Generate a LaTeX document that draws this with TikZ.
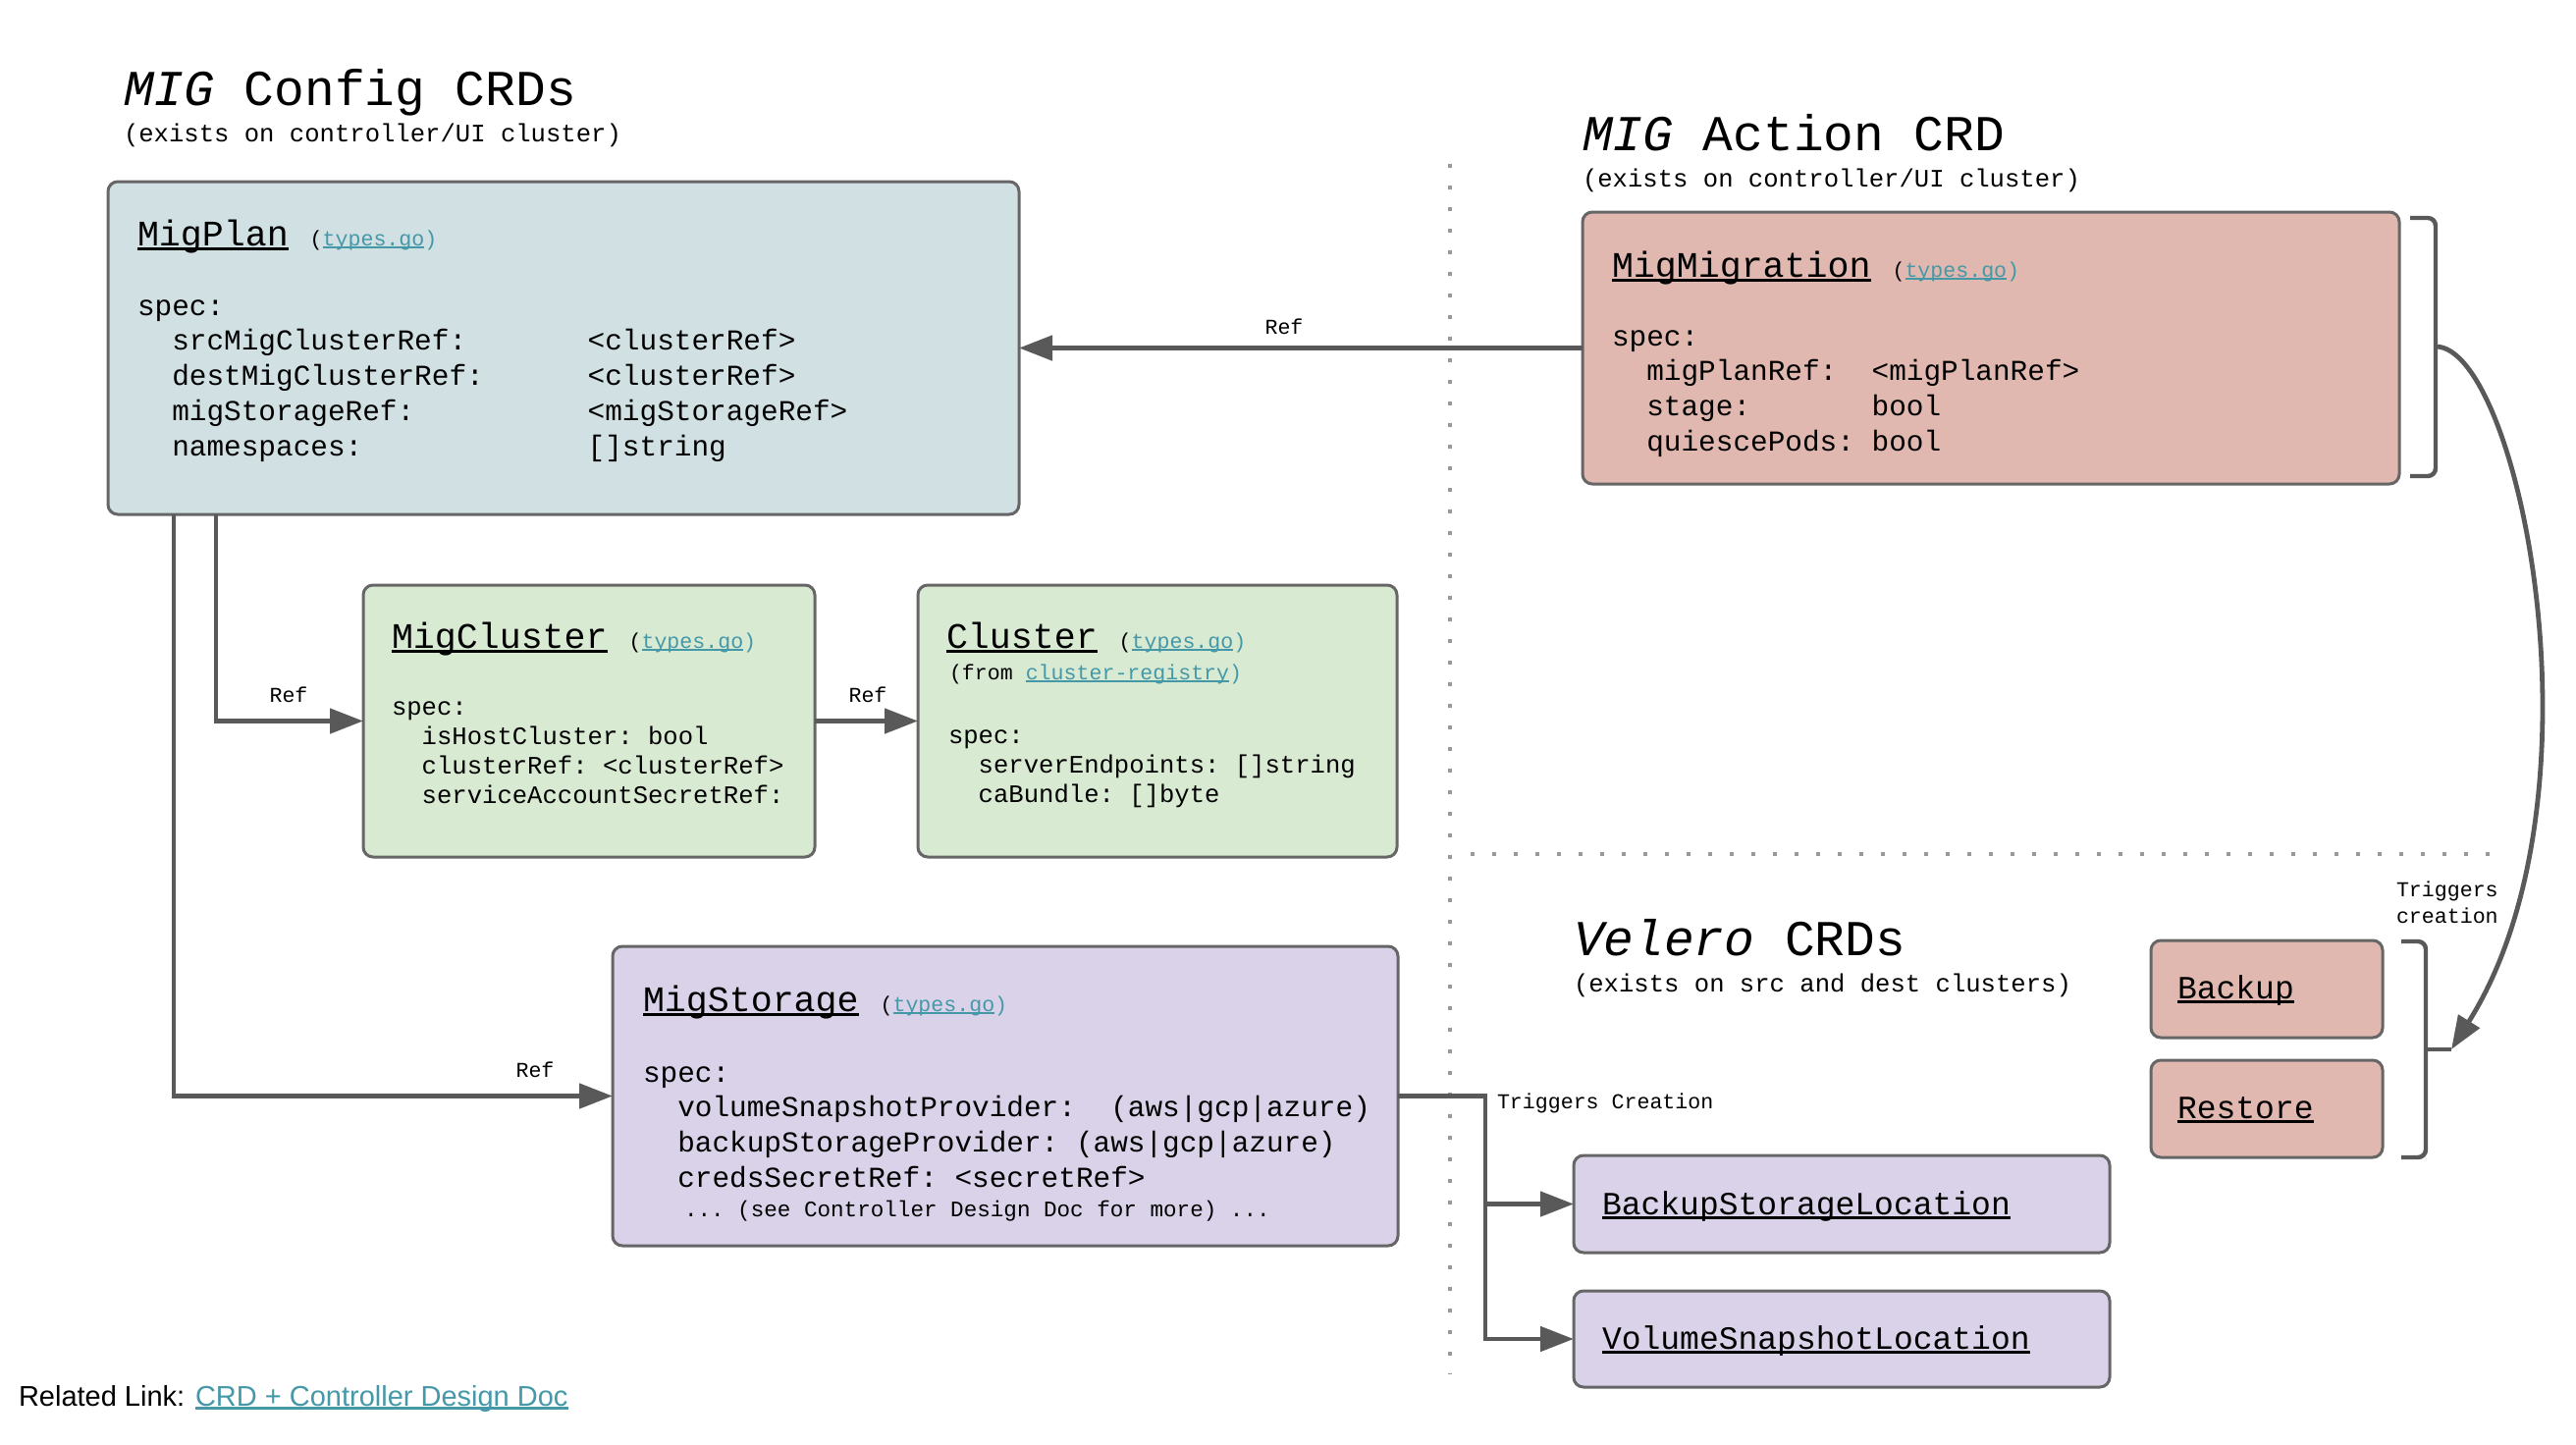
\documentclass[tikz,border=0pt]{standalone}
\usepackage{fontspec}
\setmainfont{Liberation Mono}[WordSpace={1,0,0}]
\newfontfamily\arial{Liberation Sans}
\usetikzlibrary{arrows.meta}
\definecolor{linkc}{RGB}{69,152,168}
\definecolor{cyanbox}{HTML}{D0E0E3}
\definecolor{redbox}{RGB}{224,184,175}
\definecolor{greenbox}{HTML}{D9EAD3}
\definecolor{purplebox}{HTML}{D9D2E9}
\definecolor{lineg}{RGB}{89,89,89}
\definecolor{boxline}{RGB}{102,102,102}
\definecolor{dotg}{RGB}{153,153,153}
\newcommand\ulx[2][black]{\setbox0\hbox{#2}\rlap{\color{#1}\rule[-0.14em]{\wd0}{0.09em}}\box0\relax}
\newcommand\fs[2]{\fontsize{#1}{#2}\selectfont}
\newcommand\tgo{{\fs{10.8}{13}(\ulx[linkc]{\color{linkc}types.go})}}
\newcommand\rows[1]{\begin{tabular}[t]{@{}l@{}}#1\end{tabular}}
\begin{document}
\begin{tikzpicture}[x=0.5pt,y=-0.5pt,
  box/.style={draw=boxline, line width=1.5pt, rounded corners=5pt, inner sep=0, outer sep=0, anchor=north west},
  txt/.style={inner sep=0, outer sep=0, anchor=base west, text=black},
  conn/.style={draw=lineg, line width=2.4pt, -{Triangle[length=17pt,width=12.5pt]}},
  brk/.style={draw=lineg, line width=2.2pt, rounded corners=4pt},
  dotline/.style={draw=dotg, line width=2pt, dash pattern=on 2pt off 9pt},
  hdr/.style={txt, font=\fs{18.3}{22}},
  body/.style={txt, font=\fs{14.7}{17.9}},
  sbody/.style={txt, font=\fs{12.8}{15.1}},
  small/.style={txt, font=\fs{10.8}{13.5}},
  ttl/.style={txt, font=\fs{25.6}{30}},
  sub/.style={txt, font=\fs{12.8}{15}},
  vel/.style={txt, font=\fs{16.5}{20}}
]
\useasboundingbox (0,0) rectangle (2624,1472);

% dotted separators
\draw[dotline] (1477,167) -- (1477,1400);
\draw[dotline] (1498,870) -- (2536,870);

% titles
\node[ttl] (t1) at (126,107) {\textit{MIG} Config CRDs};
\node[sub] (s1) at (126,144) {(exists on controller/UI cluster)};
\node[ttl] (t2) at (1612,153) {\textit{MIG} Action CRD};
\node[sub] (s2) at (1612,190) {(exists on controller/UI cluster)};
\node[ttl] (t3) at (1603,973) {\textit{Velero} CRDs};
\node[sub] (s3) at (1603,1010) {(exists on src and dest clusters)};

% boxes
\node[box, fill=cyanbox, minimum width=464pt, minimum height=169.5pt] (migplan) at (110,185) {};
\node[box, fill=redbox, minimum width=416pt, minimum height=138.5pt] (migmig) at (1612,216) {};
\node[box, fill=greenbox, minimum width=230pt, minimum height=138.5pt] (migcluster) at (370,596) {};
\node[box, fill=greenbox, minimum width=244pt, minimum height=138.5pt] (cluster) at (935,596) {};
\node[box, fill=purplebox, minimum width=400pt, minimum height=152.5pt] (migstorage) at (624,964) {};
\node[box, fill=purplebox, minimum width=273pt, minimum height=49.5pt] (bsl) at (1603,1177) {};
\node[box, fill=purplebox, minimum width=273pt, minimum height=49pt] (vsl) at (1603,1315) {};
\node[box, fill=redbox, minimum width=118pt, minimum height=49.5pt] (backup) at (2191,958) {};
\node[box, fill=redbox, minimum width=118pt, minimum height=49.5pt] (restore) at (2191,1080) {};

% MigPlan text
\node[hdr] (hplan) at (140,250) {\ulx{MigPlan} \tgo};
\node[body] (bplan) at (140,321) {\rows{spec:\\~~srcMigClusterRef:~~~~~~~<clusterRef>\\~~destMigClusterRef:~~~~~~<clusterRef>\\~~migStorageRef:~~~~~~~~~~<migStorageRef>\\~~namespaces:~~~~~~~~~~~~~[]string}};

% MigMigration text
\node[hdr] (hmig) at (1642,282) {\ulx{MigMigration} \tgo};
\node[body] (bmig) at (1642,352) {\rows{spec:\\~~migPlanRef:~~<migPlanRef>\\~~stage:~~~~~~~bool\\~~quiescePods:~bool}};

% MigCluster text
\node[hdr] (hmc) at (399,660) {\ulx{MigCluster} \tgo};
\node[sbody] (bmc) at (399,728) {\rows{spec:\\~~isHostCluster:~bool\\~~clusterRef:~<clusterRef>\\~~serviceAccountSecretRef:}};

% Cluster text
\node[hdr] (hcl) at (964,660) {\ulx{Cluster} \tgo};
\node[small] (fcl) at (967,692) {(from \ulx[linkc]{\color{linkc}cluster-registry})};
\node[sbody] (bcl) at (966,757) {\rows{spec:\\~~serverEndpoints:~[]string\\~~caBundle:~[]byte}};

% MigStorage text
\node[hdr] (hms) at (655,1030) {\ulx{MigStorage} \tgo};
\node[body] (bms) at (655,1102) {\rows{spec:\\~~volumeSnapshotProvider:~~(aws|gcp|azure)\\~~backupStorageProvider:~(aws|gcp|azure)\\~~credsSecretRef:~<secretRef>}};
\node[txt, font=\fs{11.3}{13}] (more) at (697,1239) {...~(see Controller Design Doc for more)~...};

% Velero boxes text
\node[vel] (tbsl) at (1632,1237) {\ulx{BackupStorageLocation}};
\node[vel] (tvsl) at (1632,1374) {\ulx{VolumeSnapshotLocation}};
\node[vel] (tbak) at (2218,1017) {\ulx{Backup}};
\node[vel] (tres) at (2218,1139) {\ulx{Restore}};

% connector labels
\node[small, anchor=base] (r1) at (1308,340) {Ref};
\node[small, anchor=base] (r2) at (294,715) {Ref};
\node[small, anchor=base] (r3) at (884,715) {Ref};
\node[small, anchor=base] (r4) at (545,1097) {Ref};
\node[small] (trg) at (1525,1129) {Triggers Creation};
\node[small] (trg2) at (2441,913) {\rows{Triggers\\creation}};

% connectors
\draw[conn] (migmig.west) -- (migplan.east);
\draw[conn] ([xshift=55pt]migplan.south west) |- (migcluster.west);
\draw[conn] (migcluster.east) -- (cluster.west);
\draw[conn] ([xshift=33.5pt]migplan.south west) |- (migstorage.west);
\coordinate (tc) at ([xshift=44.5pt]migstorage.east);
\draw[conn] (migstorage.east) -- (tc) |- (vsl.west);
\draw[conn] (tc |- bsl.west) -- (bsl.west);

% brackets and trigger curve
\coordinate (mtip) at (2481,353);
\coordinate (btip) at (2497,1069);
\draw[brk] (2455,222) -| (mtip) |- (2455,485);
\draw[brk] (2446,959) -| (2471,1069) |- (2446,1179);
\draw[brk] (2471,1069) -- (btip);
\draw[conn] (mtip) .. controls (2565,353) and (2660,810) .. (btip);

% related link
\node[txt, font=\arial\fs{14.5}{17}] (rel) at (19,1432) {Related Link: \ulx[linkc]{\color{linkc}CRD + Controller Design Doc}};
\end{tikzpicture}
\end{document}
